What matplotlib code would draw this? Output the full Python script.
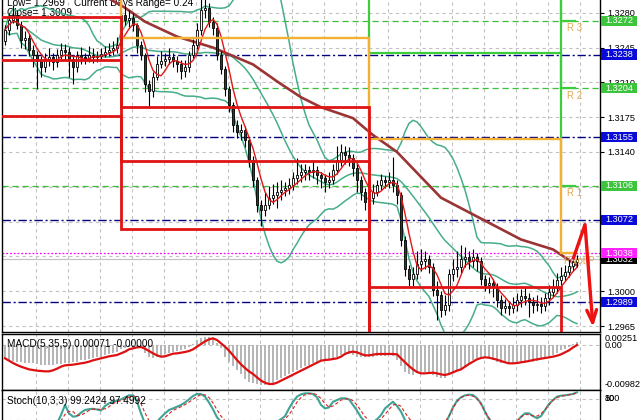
import numpy as np
import pandas as pd
import matplotlib
matplotlib.use('Agg')
import matplotlib.pyplot as plt
from matplotlib.patches import Rectangle
from matplotlib.transforms import blended_transform_factory as btf

plt.rcParams['font.family'] = ['Liberation Sans', 'DejaVu Sans']

# ------------------------------------------------------------------ data
# candles, prices x 1e4
open_x1e4 = [
    13252, 13263, 13273, 13278, 13268, 13253, 13255, 13243, 13238, 13231,
    13225, 13233, 13235, 13230, 13238, 13243, 13241, 13233, 13225, 13238,
    13235, 13233, 13238, 13235, 13236, 13239, 13241, 13243, 13245, 13248,
    13278, 13273, 13275, 13268, 13248, 13238, 13208, 13201, 13215, 13228,
    13231, 13233, 13235, 13231, 13228, 13221, 13225, 13238, 13248, 13263,
    13283, 13285, 13271, 13265, 13238, 13223, 13203, 13187, 13167, 13160,
    13162, 13152, 13132, 13112, 13087, 13082, 13087, 13094, 13097, 13100,
    13102, 13104, 13107, 13114, 13117, 13120, 13122, 13120, 13122, 13117,
    13114, 13110, 13112, 13122, 13132, 13140, 13137, 13134, 13124, 13112,
    13100, 13090, 13094, 13100, 13107, 13112, 13110, 13112, 13107, 13097,
    13052, 13022, 13012, 13017, 13027, 13030, 13032, 13024, 13001, 12996,
    12981, 12986, 13017, 13022, 13024, 13032, 13034, 13030, 13034, 13030,
    13012, 13006, 13008, 13004, 12991, 12983, 12985, 12983, 12986, 12991,
    12995, 12993, 12989, 12986, 12987, 12985, 12993, 12999, 13003, 13011,
    13015, 13019, 13025, 13029]
high_x1e4 = [
    13268, 13280, 13288, 13283, 13272, 13262, 13259, 13248, 13242, 13236,
    13240, 13245, 13240, 13244, 13250, 13249, 13246, 13238, 13242, 13246,
    13240, 13247, 13245, 13242, 13245, 13247, 13250, 13252, 13256, 13284,
    13287, 13283, 13280, 13270, 13252, 13240, 13212, 13220, 13236, 13242,
    13240, 13245, 13240, 13236, 13232, 13232, 13242, 13254, 13270, 13298,
    13296, 13290, 13276, 13270, 13242, 13226, 13206, 13190, 13172, 13168,
    13166, 13155, 13136, 13115, 13092, 13100, 13106, 13108, 13110, 13112,
    13110, 13114, 13120, 13134, 13128, 13128, 13126, 13132, 13126, 13120,
    13118, 13120, 13128, 13146, 13148, 13146, 13145, 13138, 13128, 13116,
    13104, 13100, 13108, 13112, 13118, 13116, 13120, 13135, 13112, 13100,
    13056, 13026, 13024, 13040, 13042, 13040, 13036, 13028, 13010, 13000,
    12996, 13022, 13032, 13040, 13046, 13044, 13040, 13042, 13038, 13034,
    13016, 13014, 13012, 13008, 12996, 12992, 12990, 12994, 12998, 13002,
    13004, 12998, 12994, 12996, 12994, 12998, 13006, 13012, 13018, 13024,
    13026, 13032, 13036, 13036]
low_x1e4 = [
    13248, 13258, 13270, 13264, 13245, 13244, 13236, 13225, 13203, 13215,
    13220, 13226, 13222, 13225, 13233, 13232, 13215, 13208, 13220, 13228,
    13228, 13230, 13229, 13230, 13232, 13235, 13236, 13238, 13240, 13245,
    13268, 13266, 13262, 13240, 13232, 13200, 13186, 13195, 13212, 13224,
    13226, 13228, 13225, 13220, 13213, 13215, 13220, 13234, 13244, 13258,
    13275, 13266, 13258, 13232, 13218, 13196, 13180, 13160, 13154, 13152,
    13145, 13125, 13105, 13080, 13066, 13076, 13083, 13088, 13084, 13092,
    13096, 13098, 13102, 13108, 13110, 13112, 13112, 13114, 13108, 13104,
    13100, 13104, 13108, 13118, 13126, 13128, 13126, 13116, 13100, 13092,
    13082, 13084, 13088, 13096, 13102, 13104, 13104, 13100, 13088, 13045,
    13015, 13005, 13004, 13012, 13020, 13022, 13018, 12995, 12971, 12974,
    12976, 12980, 13010, 13014, 13018, 13024, 13022, 13024, 13020, 13006,
    13000, 12998, 12994, 12984, 12976, 12978, 12976, 12978, 12980, 12984,
    12986, 12974, 12978, 12980, 12978, 12980, 12986, 12994, 12998, 13006,
    13010, 13014, 13020, 13024]
close_x1e4 = [
    13263, 13273, 13278, 13268, 13253, 13255, 13243, 13238, 13231, 13225,
    13233, 13235, 13230, 13238, 13243, 13241, 13233, 13225, 13238, 13235,
    13233, 13238, 13235, 13236, 13239, 13241, 13243, 13245, 13248, 13278,
    13273, 13275, 13268, 13248, 13238, 13208, 13201, 13215, 13228, 13231,
    13233, 13235, 13231, 13228, 13221, 13225, 13238, 13248, 13263, 13283,
    13285, 13271, 13265, 13238, 13223, 13203, 13187, 13167, 13160, 13162,
    13152, 13132, 13112, 13087, 13082, 13087, 13094, 13097, 13100, 13102,
    13104, 13107, 13114, 13117, 13120, 13122, 13120, 13122, 13117, 13114,
    13110, 13112, 13122, 13132, 13140, 13137, 13134, 13124, 13112, 13100,
    13090, 13094, 13100, 13107, 13112, 13110, 13112, 13107, 13097, 13052,
    13022, 13012, 13017, 13027, 13030, 13032, 13024, 13001, 12996, 12981,
    12986, 13017, 13022, 13024, 13032, 13034, 13030, 13034, 13030, 13012,
    13006, 13008, 13004, 12991, 12983, 12985, 12983, 12986, 12991, 12995,
    12993, 12989, 12986, 12987, 12985, 12993, 12999, 13003, 13011, 13015,
    13019, 13025, 13029, 13032]

# slow moving average (brown), read at these bars
ma_slow_bar = [23, 30, 35, 43, 52, 62, 68, 74, 79, 87, 92, 98, 109, 119, 129, 137, 143]
ma_slow_x1e4 = [13301, 13285, 13271, 13256, 13245, 13228, 13211, 13195, 13185,
                13174, 13157, 13140, 13094, 13073, 13052, 13042, 13026]

# daily pivot levels (step lines); day starts at these bars
day_start_bar = [-1, 29, 91, 139]
day_end_bar = 142.5
pivot_p = [1.3330, 1.3255, 1.3153, 1.3038]
pivot_r1 = [1.3400, 1.3380, 1.3320, 1.3106]
pivot_r2 = [1.3420, 1.3400, 1.3240, 1.3204]
pivot_r3 = [1.3450, 1.3430, 1.3380, 1.3272]
pivot_s1 = [1.3276, 1.3185, 1.3004, 1.2900]
pivot_s2 = [1.3232, 1.3131, 1.2900, 1.2850]
pivot_s3 = [1.3176, 1.3063, 1.2850, 1.2800]
pivot_names = ['R 3', 'R 2', 'R 1', 'Pivot P']

price_ticks = [1.3280, 1.3245, 1.3210, 1.3175, 1.3140, 1.3105, 1.3070, 1.3035, 1.3000, 1.2965]
level_green = [1.3272, 1.3204, 1.3106]
level_blue = [1.3238, 1.3155, 1.3072, 1.2989]
level_magenta = 1.3038
last_price = 1.3032
label_boxes = [(1.3272, '#3cc43c'), (1.3238, '#0a0ad8'), (1.3204, '#3cc43c'),
               (1.3155, '#0a0ad8'), (1.3106, '#3cc43c'), (1.3072, '#0a0ad8'),
               (1.3032, '#000000'), (1.3038, '#ff22ff'), (1.2989, '#0a0ad8')]

forecast_bar = [142, 145, 147]
forecast_price = [1.3032, 1.3067, 1.2964]

info_low = 'Low= 1.2969'
info_range = 'Current Days Range= 0.24'
info_close = 'Close= 1.3009'

# MACD(5,35,5), values x 1e-5
macd_hist_e5 = [
    -336, -369, -394, -410, -426, -435, -451, -451, -467, -484,
    -492, -492, -484, -476, -459, -451, -443, -426, -410, -377,
    -361, -336, -320, -303, -287, -254, -221, -189, -164, -107,
    -74, -49, -41, -16, -16, -205, -303, -328, -303, -279,
    -230, -189, -164, -148, -131, -107, -57, 25, 123, 172,
    205, 205, 172, 57, -82, -287, -410, -517, -615, -713,
    -828, -902, -943, -960, -982, -975, -950, -927, -861, -812,
    -763, -713, -664, -615, -566, -517, -484, -451, -426, -369,
    -369, -369, -336, -287, -238, -205, -221, -254, -287, -303,
    -303, -287, -287, -279, -271, -262, -254, -271, -369, -517,
    -656, -722, -738, -697, -664, -672, -697, -738, -779, -820,
    -804, -738, -697, -648, -599, -533, -451, -377, -328, -303,
    -287, -320, -369, -410, -443, -451, -459, -451, -451, -443,
    -435, -418, -410, -385, -353, -320, -279, -238, -205, -130,
    -90, -45, 15, 71]
macd_signal_e5 = [
    -328, -385, -443, -492, -533, -566, -599, -615, -631, -640,
    -648, -648, -623, -582, -533, -500, -492, -484, -467, -451,
    -435, -410, -377, -353, -328, -303, -279, -262, -246, -205,
    -164, -107, -82, -57, -49, -90, -148, -205, -254, -287,
    -279, -246, -213, -205, -189, -172, -148, -107, -41, 25,
    90, 139, 164, 123, 41, -41, -139, -254, -369, -476,
    -566, -648, -713, -795, -877, -927, -959, -959, -927, -877,
    -828, -779, -730, -681, -631, -582, -533, -484, -435, -385,
    -369, -361, -344, -328, -287, -221, -180, -164, -180, -221,
    -254, -254, -238, -221, -221, -221, -221, -221, -230, -328,
    -426, -517, -599, -664, -697, -697, -689, -681, -697, -722,
    -738, -713, -672, -631, -599, -533, -467, -410, -353, -320,
    -303, -312, -336, -361, -394, -426, -451, -451, -443, -426,
    -410, -394, -369, -353, -336, -320, -303, -287, -262, -230,
    -180, -131, -60, -1]
macd_label = 'MACD(5,35,5) 0.00071 -0.00000'
macd_axis_labels = [0.00251, 0.0, -0.00982]

# Stochastic(10,3,3)
stoch_main = [
    15, 12, 10, 8, 10, 12, 9, 7, 10, 14, 12, 10, 8, 10,
    34, 63, 39, 29.5, 31, 41, 48.6, 51, 52, 50, 47, 60, 67.6, 72.4, 75, 79,
    84.8, 90.5, 90.5, 72.4, 39, 10, 5, 8, 15, 27.6, 39, 48.6, 53, 58, 63, 70,
    79, 88.6, 94.3, 94.3, 86.7, 70, 50.5, 27.6, 15,
    10, 8, 5, 3, 2, 2, 3, 2, 4, 3, 5, 8,
    10, 15, 22, 31, 53, 72, 86.7, 93.3, 96.2, 96.2, 94.3, 84.8, 63, 53, 56,
    72, 77, 82, 82, 79, 63, 47, 27.6, 15, 12, 14, 22, 34, 53, 63, 72, 60, 44, 20,
    10, 6, 8, 12, 9, 5, 3, 2, 4, 8,
    31, 56, 75, 84.8, 90.5, 92.4, 91.4, 82, 67.6, 44, 22,
    12, 8, 6, 5, 8, 10, 15,
    29.5, 39, 39, 31, 25, 31, 48.6, 66, 77, 86.7, 89.5, 90.5, 92.4, 94.3, 99.24]
stoch_signal = [
    14, 13, 12, 10, 9, 10, 10, 9, 9, 10, 12, 12, 11, 11,
    18, 36, 45, 44, 33, 34, 40, 47, 51, 51, 50, 52, 58, 67, 72, 75, 80, 85, 89,
    85, 67, 40, 18, 8, 9, 17, 27, 38, 47, 53, 58, 64, 71, 79, 87, 92, 92, 84,
    69, 49, 31,
    18, 11, 6, 3, 2, 2, 2, 3, 3, 4, 5, 7,
    8, 11, 16, 23, 35, 52, 71, 84, 92, 95, 96, 92, 81, 67, 57, 60, 68, 77, 80,
    81, 75, 63, 46, 30, 18, 14, 16, 23, 36, 50, 63, 65, 59, 41,
    25, 12, 9, 9, 9, 6, 3, 3, 5, 14,
    31, 54, 72, 84, 89, 91, 88, 81, 65, 44, 26,
    14, 9, 7, 8, 9, 11, 18,
    28, 36, 35, 32, 31, 38, 49, 63, 76, 84, 88, 90, 92, 94, 97.5]
stoch_label = 'Stoch(10,3,3) 99.2424 97.4992'
stoch_levels = [80, 20]

# ------------------------------------------------------------------ figure
W, H = 640, 420
fig = plt.figure(figsize=(6.4, 4.2), dpi=100)
fig.patch.set_facecolor('white')


def rect(x0, y0, x1, y1):
    return [x0 / W, 1 - y1 / H, (x1 - x0) / W, (y1 - y0) / H]


ax = fig.add_axes(rect(2, 0, 600, 332))
axm = fig.add_axes(rect(2, 334, 600, 390))
axs = fig.add_axes(rect(2, 390, 600, 427))

o = np.array(open_x1e4) / 1e4
h = np.array(high_x1e4) / 1e4
l = np.array(low_x1e4) / 1e4
c = np.array(close_x1e4) / 1e4
idx = np.arange(len(c))

XL = (-0.75, 148.75)
grid_x = np.arange(7.675, 146, 8)
GRID = dict(color='#c2c2c2', lw=0.8, ls=(0, (3, 3)), zorder=1)
FS = 6.6

for a in (ax, axm, axs):
    a.set_xlim(*XL)
    a.set_xticks([])
    for g in grid_x:
        a.axvline(g, **GRID)
    for sp in a.spines.values():
        sp.set_linewidth(1.0)
        sp.set_color('black')

# ---------------- main panel
ax.set_ylim(1.29590, 1.32928)
ax.spines['top'].set_visible(False)
ax.yaxis.tick_right()
ax.set_yticks(price_ticks)
ax.set_yticklabels([f'{p:.4f}' for p in price_ticks])
ax.tick_params(axis='y', length=3, width=0.8, pad=2.5, labelsize=FS)

for p in price_ticks:
    ax.axhline(p, **GRID)
for v in level_green:
    ax.axhline(v, color='#3cbf3c', lw=0.9, ls=(0, (5, 3)), zorder=2)
for v in level_blue:
    ax.axhline(v, color='#000080', lw=1.0, ls=(0, (6, 2, 1.5, 2)), zorder=2)
ax.axhline(level_magenta, color='#ff00ff', lw=0.9, ls=(0, (1.5, 1.5)), zorder=2)
ax.axhline(last_price, color='#c4c4c4', lw=0.9, zorder=2)

ax.text(5 / 598, 1 - 3 / 332, info_low, transform=ax.transAxes, fontsize=7.2,
        va='center', ha='left', zorder=2.5)
ax.text(72 / 598, 1 - 3 / 332, info_range, transform=ax.transAxes, fontsize=7.2,
        va='center', ha='left', zorder=2.5)
ax.text(5 / 598, 1 - 13.5 / 332, info_close, transform=ax.transAxes, fontsize=7.2,
        va='center', ha='left', zorder=2.5)

# Bollinger bands and fast MA computed from the closes
s = pd.Series(c)
mid = s.rolling(20, min_periods=1).mean()
sd = s.rolling(20, min_periods=1).std(ddof=0)
for band in (mid + 2 * sd, mid, mid - 2 * sd):
    ax.plot(idx, band, color='#46ad8a', lw=1.1, zorder=3)

ax.plot(ma_slow_bar, np.array(ma_slow_x1e4) / 1e4, color='#9b3434', lw=1.9, zorder=3.5)

# candles
up = c >= o
ax.vlines(idx, l, h, color='black', lw=0.8, zorder=4)
ax.bar(idx, np.maximum(np.abs(c - o), 0.00003), bottom=np.minimum(o, c), width=0.6,
       color=np.where(up, 'white', '#1b4a1b'), edgecolor='black', linewidth=0.6, zorder=5)

ax.plot(idx, s.rolling(5, min_periods=1).mean(), color='#e01818', lw=1.0, zorder=6)

# pivot step lines
xs = day_start_bar + [day_end_bar]


def step(vals, color, lw):
    ax.plot(xs, list(vals) + [vals[-1]], drawstyle='steps-post', color=color, lw=lw,
            zorder=7, solid_joinstyle='miter')


step(pivot_r3, '#3ccc3c', 1.6)
step(pivot_r2, '#3ccc3c', 1.6)
step(pivot_r1, '#3ccc3c', 1.6)
step(pivot_p, '#f2b035', 1.7)
for lv in (pivot_s3, pivot_s2, pivot_s1):
    step(lv, '#e01414', 2.0)

for name, lv, dy in zip(pivot_names,
                        [pivot_r3[-1], pivot_r2[-1], pivot_r1[-1], pivot_p[-1]],
                        [-0.0007, -0.0008, -0.0007, -0.0008]):
    ax.text(140.6 if name != 'Pivot P' else 139.8, lv + dy, name, color='#e3a94c',
            fontsize=7, va='center', ha='left', zorder=6.5)

# forecast arrow
ax.plot(forecast_bar[:2], forecast_price[:2], color='#ee1111', lw=2.4, zorder=8,
        solid_capstyle='butt', clip_on=False)
ax.annotate('', xy=(forecast_bar[2], forecast_price[2]),
            xytext=(forecast_bar[1], forecast_price[1]),
            arrowprops=dict(arrowstyle='->,head_length=0.9,head_width=0.35',
                            color='#ee1111', lw=2.4, shrinkA=0, shrinkB=0),
            zorder=8, annotation_clip=False)

# coloured price boxes on the right axis
tb = btf(ax.transAxes, ax.transData)
for k, (v, col) in enumerate(label_boxes):
    ax.add_patch(Rectangle((1.0017, v - 0.00051), 36 / 598, 0.00102, transform=tb,
                           facecolor=col, edgecolor='none', clip_on=False, zorder=20 + k))
    ax.text(1.0017 + 18 / 598, v, f'{v:.4f}', transform=tb, color='white', fontsize=FS,
            ha='center', va='center', clip_on=False, zorder=20.5 + k)

# ---------------- MACD panel
hist = np.array(macd_hist_e5) * 1e-5
sig = np.array(macd_signal_e5) * 1e-5
axm.set_ylim(-1107e-5, 271e-5)
axm.set_yticks([])
axm.axhline(0, **GRID)
axm.bar(idx, hist, width=0.5, color='#b6b6b6', zorder=2)
axm.plot(idx, sig, color='#dd1111', lw=1.6, zorder=3)
axm.text(5 / 598, (390 - 344) / 56, macd_label, transform=axm.transAxes, fontsize=7.2,
         va='center', ha='left')
tm = btf(axm.transAxes, axm.transData)
axm.text(1.008, 1.0, f'{macd_axis_labels[0]:.5f}', transform=axm.transAxes, fontsize=FS,
         va='top', ha='left', clip_on=False)
axm.text(1.008, macd_axis_labels[1], f'{macd_axis_labels[1]:.2f}', transform=tm,
         fontsize=FS, va='center', ha='left', clip_on=False)
axm.text(1.008, macd_axis_labels[2], f'{macd_axis_labels[2]:.5f}', transform=tm,
         fontsize=FS, va='center', ha='left', clip_on=False)

# ---------------- Stochastic panel
axs.set_ylim(0, 105.7)
axs.set_yticks([])
axs.spines['bottom'].set_visible(False)
for lv in stoch_levels:
    axs.axhline(lv, **GRID)
axs.plot(idx, stoch_main, color='#3fa396', lw=1.5, zorder=3)
axs.plot(idx, stoch_signal, color='#dd2222', lw=0.8, ls=(0, (3, 2)), zorder=3)
axs.text(5 / 598, (427 - 401) / 37, stoch_label, transform=axs.transAxes, fontsize=7.2,
         va='center', ha='left', zorder=4)
ts = btf(axs.transAxes, axs.transData)
axs.text(1.008, stoch_levels[0], '100', transform=ts, fontsize=FS, va='center',
         ha='left', clip_on=False)
axs.text(1.008, stoch_levels[0], f'{stoch_levels[0]}', transform=ts, fontsize=FS,
         va='center', ha='left', clip_on=False)

fig.savefig('out.png', dpi=100, facecolor='white')
